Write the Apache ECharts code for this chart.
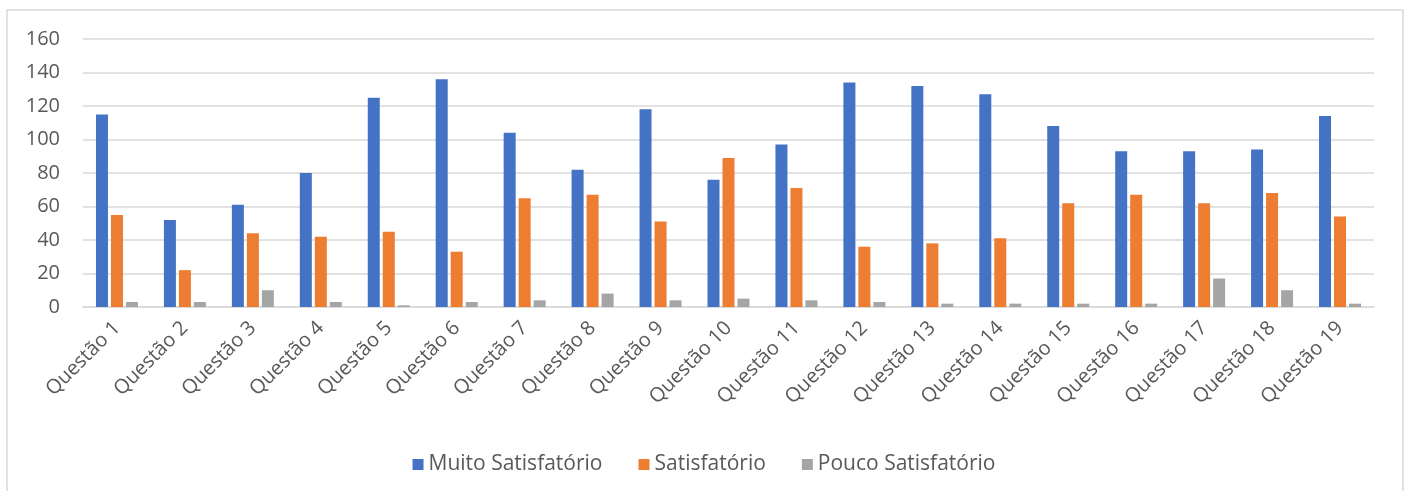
<!DOCTYPE html>
<html>
<head>
<meta charset="utf-8">
<title>Questões</title>
<script src="https://cdn.jsdelivr.net/npm/echarts@6/dist/echarts.min.js"></script>
<style>
  html, body { margin: 0; padding: 0; background: #fff; }
  #chart { width: 1408px; height: 491px; }
</style>
</head>
<body>
<div id="chart"></div>
<script>
const categories = [
  'Questão 1', 'Questão 2', 'Questão 3', 'Questão 4', 'Questão 5',
  'Questão 6', 'Questão 7', 'Questão 8', 'Questão 9', 'Questão 10',
  'Questão 11', 'Questão 12', 'Questão 13', 'Questão 14', 'Questão 15',
  'Questão 16', 'Questão 17', 'Questão 18', 'Questão 19'
]
const muitoSatisfatorio = [115, 52, 61, 80, 125, 136, 104, 82, 118, 76, 97, 134, 132, 127, 108, 93, 93, 94, 114]
const satisfatorio = [55, 22, 44, 42, 45, 33, 65, 67, 51, 89, 71, 36, 38, 41, 62, 67, 62, 68, 54]
const poucoSatisfatorio = [3, 3, 10, 3, 1, 3, 4, 8, 4, 5, 4, 3, 2, 2, 2, 2, 17, 10, 2]

const textColor = '#595959'
const lineColor = '#d9d9d9'
const font = '"Open Sans", "Noto Sans", sans-serif'

const chart = echarts.init(document.getElementById('chart'))

function barSeries(name, data, color) {
  return {
    name: name,
    type: 'bar',
    data: data,
    barWidth: 12,
    barGap: '25%',
    itemStyle: { color: color },
    animation: false
  }
}

chart.setOption({
  textStyle: { fontFamily: font },
  graphic: [
    {
      // moldura do gráfico
      type: 'rect',
      shape: { x: 7, y: 10, width: 1396, height: 490 },
      style: { fill: 'none', stroke: lineColor, lineWidth: 1.5 },
      silent: true
    }
  ],
  grid: {
    left: 83,
    right: 34,
    top: 39,
    bottom: 184
  },
  legend: {
    top: 449,
    left: 'center',
    itemWidth: 11,
    itemHeight: 11,
    itemGap: 36,
    icon: 'rect',
    textStyle: { color: textColor, fontSize: 21, fontFamily: font },
    data: ['Muito Satisfatório', 'Satisfatório', 'Pouco Satisfatório']
  },
  xAxis: {
    type: 'category',
    data: categories,
    axisLine: { lineStyle: { color: lineColor, width: 1.5 } },
    axisTick: { show: false },
    axisLabel: {
      rotate: 45,
      interval: 0,
      margin: 18,
      color: textColor,
      fontSize: 20,
      fontFamily: font
    }
  },
  yAxis: {
    type: 'value',
    min: 0,
    max: 160,
    interval: 20,
    axisLine: { show: false },
    axisTick: { show: false },
    splitLine: { lineStyle: { color: lineColor, width: 1.5 } },
    axisLabel: {
      margin: 23,
      color: textColor,
      fontSize: 20,
      fontFamily: font
    }
  },
  series: [
    barSeries('Muito Satisfatório', muitoSatisfatorio, '#4472c4'),
    barSeries('Satisfatório', satisfatorio, '#ed7d31'),
    barSeries('Pouco Satisfatório', poucoSatisfatorio, '#a5a5a5')
  ]
})
</script>
</body>
</html>
